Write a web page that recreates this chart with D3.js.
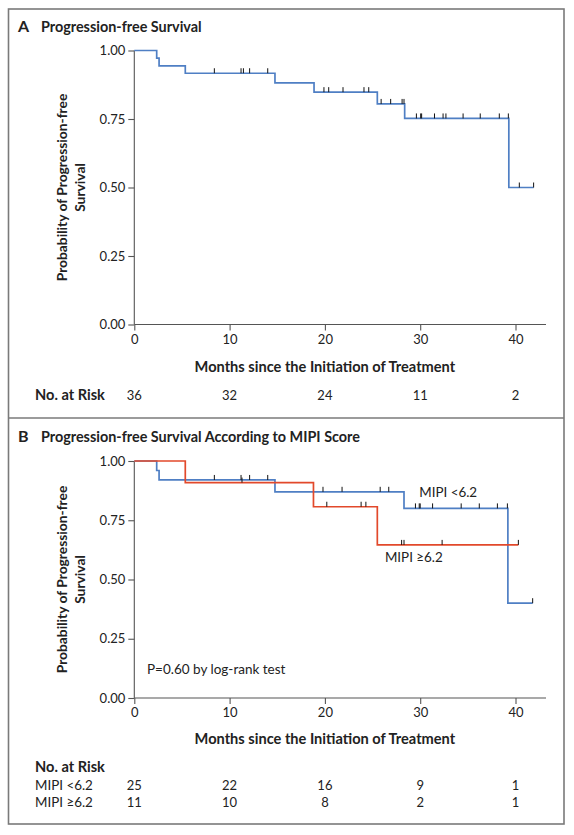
<!DOCTYPE html>
<html>
<head>
<meta charset="utf-8">
<script src="https://cdn.jsdelivr.net/npm/d3@7"></script>
<style>
  html, body { margin: 0; padding: 0; background: #fff; }
  svg text { font-family: Lato, "Noto Sans", sans-serif; fill: #222; }
</style>
</head>
<body>
<svg id="chart" width="574" height="835"></svg>
<script>
// ---------------- DATA ----------------
const xTicks = [0, 10, 20, 30, 40];
const yTicks = [0, 0.25, 0.5, 0.75, 1.0];

// Panel A: overall PFS (event times in months, survival after event)
const allEventTimes = [2.35, 2.6, 5.35, 14.76, 18.86, 25.5, 28.37, 39.3];
const allEventSurv  = [0.972, 0.944, 0.917, 0.882, 0.848, 0.805, 0.752, 0.50];
const allCensor = [8.4, 11.2, 11.45, 12.1, 14.0, 19.9, 20.4, 21.9, 24.1, 24.6, 25.9, 26.9, 28.1, 28.3,
                   29.6, 30.05, 30.15, 31.5, 32.4, 32.7, 34.5, 36.3, 38.3, 39.25, 40.4, 41.9];
const allEnd = 41.9;
const allRisk = [36, 32, 24, 11, 2];

// Panel B: MIPI <6.2
const lowEventTimes = [2.35, 2.6, 14.76, 28.3, 39.2];
const lowEventSurv  = [0.96, 0.92, 0.87, 0.80, 0.40];
const lowCensor = [8.4, 11.2, 12.1, 14.0, 19.8, 21.8, 25.8, 26.7, 29.5, 29.9, 30.0, 31.3, 34.3, 36.2, 38.1, 39.15, 41.8];
const lowEnd = 41.8;
const lowRisk = [25, 22, 16, 9, 1];

// Panel B: MIPI >=6.2
const highEventTimes = [5.35, 18.8, 25.5];
const highEventSurv  = [0.909, 0.807, 0.646];
const highCensor = [11.3, 20.2, 23.8, 24.3, 28.05, 28.3, 32.3, 40.3];
const highEnd = 40.3;
const highRisk = [11, 10, 8, 2, 1];

// ---------------- DRAW ----------------
const BLUE = "#4f7fc4", RED = "#e2492b", AXIS = "#555";
const svg = d3.select("#chart");

// frame
svg.append("rect").attr("x", 8.5).attr("y", 9).attr("width", 555.5).attr("height", 815)
  .attr("fill", "none").attr("stroke", "#7a7a7a").attr("stroke-width", 1.6);
svg.append("line").attr("x1", 8.5).attr("x2", 564).attr("y1", 418).attr("y2", 418)
  .attr("stroke", "#7a7a7a").attr("stroke-width", 1.6);

function makeSeries(times, surv, end) {
  const pts = [[0, 1]];
  times.forEach((t, i) => pts.push([t, surv[i]]));
  pts.push([end, surv[surv.length - 1]]);
  return pts;
}
function survAt(times, surv, t) {
  let s = 1;
  times.forEach((et, i) => { if (et <= t) s = surv[i]; });
  return s;
}

function panel(opt) {
  const g = svg.append("g");
  const x = d3.scaleLinear().domain([0, 43.2]).range([134.3, 546]);
  const y = d3.scaleLinear().domain([0, 1]).range([opt.y0, opt.y1]);

  // title
  g.append("text").attr("x", 18).attr("y", opt.titleY)
    .attr("font-size", 16).attr("font-weight", 700).text(opt.letter);
  g.append("text").attr("x", 41).attr("y", opt.titleY)
    .attr("font-size", 14.4).attr("font-weight", 700).text(opt.title);

  // axes
  const ya = g.append("g").attr("transform", `translate(${x(0)},0)`)
    .call(d3.axisLeft(y).tickValues(yTicks).tickFormat(d3.format(".2f")).tickSize(6).tickPadding(3));
  const xa = g.append("g").attr("transform", `translate(0,${y(0)})`)
    .call(d3.axisBottom(x).tickValues(xTicks).tickSize(6).tickPadding(4));
  [ya, xa].forEach(a => {
    a.select(".domain").attr("stroke", AXIS).attr("stroke-width", 1.1);
    a.selectAll(".tick line").attr("stroke", AXIS).attr("stroke-width", 1.1);
    a.selectAll(".tick text").attr("font-size", 13).attr("fill", "#333")
      .attr("font-family", "Lato, 'Noto Sans', sans-serif");
  });
  xa.select(".domain").attr("d", `M${x(0)},0H${x(43.2)}`);
  ya.select(".domain").attr("d", `M0,${y(1)}V${y(0)}`);

  // y label
  const yc = (opt.y0 + opt.y1) / 2;
  g.append("text").attr("transform", `translate(67,${yc}) rotate(-90)`)
    .attr("text-anchor", "middle").attr("font-size", 13.8).attr("font-weight", 700)
    .text("Probability of Progression-free");
  g.append("text").attr("transform", `translate(84.5,${yc}) rotate(-90)`)
    .attr("text-anchor", "middle").attr("font-size", 13.8).attr("font-weight", 700)
    .text("Survival");

  // x label
  g.append("text").attr("x", x(20)).attr("y", opt.xlabY).attr("text-anchor", "middle")
    .attr("font-size", 14.6).attr("font-weight", 700).text("Months since the Initiation of Treatment");

  const line = d3.line().x(d => x(d[0])).y(d => y(d[1])).curve(d3.curveStepAfter);

  opt.series.forEach(s => {
    g.append("path").datum(makeSeries(s.times, s.surv, s.end))
      .attr("d", line).attr("fill", "none").attr("stroke", s.color).attr("stroke-width", 1.7);
  });
  opt.series.forEach(s => {
    g.selectAll(null).data(s.censor).enter().append("line")
      .attr("x1", d => x(d)).attr("x2", d => x(d))
      .attr("y1", d => y(survAt(s.times, s.surv, d)))
      .attr("y2", d => y(survAt(s.times, s.surv, d)) - 5)
      .attr("stroke", "#111").attr("stroke-width", 1);
  });
  return { g, x, y };
}

// Panel A
const A = panel({
  letter: "A", title: "Progression-free Survival", titleY: 32,
  y0: 324.5, y1: 50.5, xlabY: 372,
  series: [{ times: allEventTimes, surv: allEventSurv, censor: allCensor, end: allEnd, color: BLUE }]
});
A.g.append("text").attr("x", 35).attr("y", 400).attr("font-size", 14.6).attr("font-weight", 700).text("No. at Risk");
A.g.selectAll(null).data(allRisk).enter().append("text")
  .attr("x", (d, i) => A.x(xTicks[i])).attr("y", 400).attr("text-anchor", "middle")
  .attr("font-size", 13).text(d => d);

// Panel B
const B = panel({
  letter: "B", title: "Progression-free Survival According to MIPI Score", titleY: 442,
  y0: 698, y1: 461, xlabY: 744,
  series: [
    { times: lowEventTimes, surv: lowEventSurv, censor: lowCensor, end: lowEnd, color: BLUE },
    { times: highEventTimes, surv: highEventSurv, censor: highCensor, end: highEnd, color: RED }
  ]
});
B.g.append("text").attr("x", B.x(29.9)).attr("y", B.y(0.87) + 5.5).attr("font-size", 13.4).text("MIPI <6.2");
B.g.append("text").attr("x", B.x(26.3)).attr("y", B.y(0.646) + 17.5).attr("font-size", 13.4).text("MIPI \u22656.2");
B.g.append("text").attr("x", 147).attr("y", 674).attr("font-size", 13.5).text("P=0.60 by log-rank test");

B.g.append("text").attr("x", 35).attr("y", 772).attr("font-size", 14.6).attr("font-weight", 700).text("No. at Risk");
const rows = [{ label: "MIPI <6.2", vals: lowRisk, y: 790 }, { label: "MIPI \u22656.2", vals: highRisk, y: 807 }];
rows.forEach(r => {
  B.g.append("text").attr("x", 35).attr("y", r.y).attr("font-size", 13.4).text(r.label);
  B.g.selectAll(null).data(r.vals).enter().append("text")
    .attr("x", (d, i) => B.x(xTicks[i])).attr("y", r.y).attr("text-anchor", "middle")
    .attr("font-size", 13).text(d => d);
});
</script>
</body>
</html>
